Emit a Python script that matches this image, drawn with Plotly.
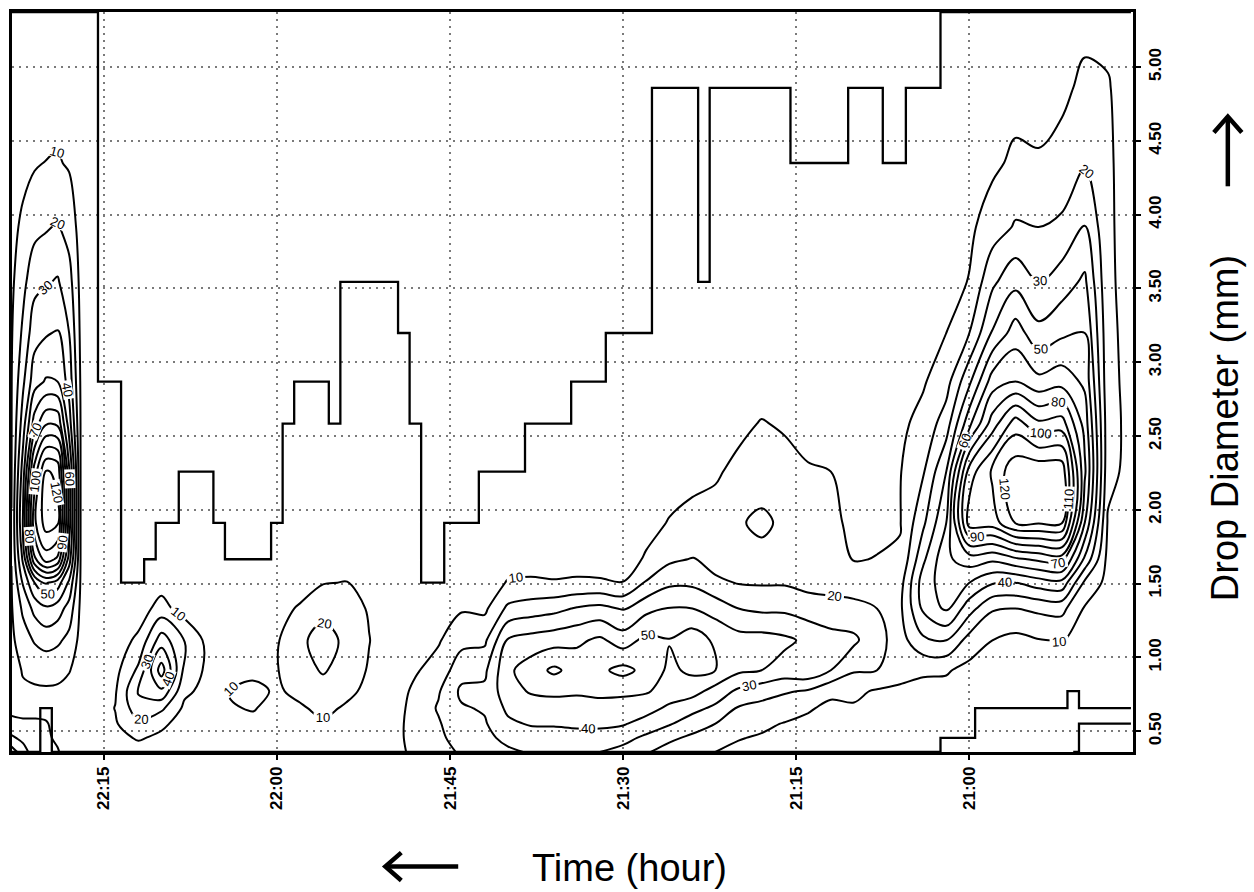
import plotly.graph_objects as go

# ---------------- data ----------------
# JWD drop-size bin centres (mm)
diam_bins = [0.359, 0.455, 0.551, 0.656, 0.771, 0.913, 1.116, 1.331, 1.506, 1.665,
             1.912, 2.259, 2.584, 2.869, 3.198, 3.544, 3.916, 4.350, 4.859, 5.373]

# sampling times of the drop-size spectra
sample_times = ["20:46", "20:48", "20:50", "20:52", "20:54", "20:56", "20:58", "21:00",
                "21:02", "21:04", "21:06", "21:08", "21:10", "21:12", "21:14", "21:16",
                "21:18", "21:20", "21:22", "21:24", "21:26", "21:28", "21:30", "21:32",
                "21:34", "21:36", "21:38", "21:40", "21:42", "21:44", "21:46", "21:48",
                "21:50", "21:52", "21:54", "21:56", "21:58", "22:00", "22:02", "22:04",
                "22:06", "22:08", "22:10", "22:12", "22:14", "22:16", "22:17", "22:18",
                "22:19", "22:20", "22:21", "22:22", "22:23"]

# drop concentration per bin (one list per sampling time, bins from small to large)
dsd_counts = [
    [0, 0, 0, 2, 3, 4, 5, 5, 6, 6, 7, 7, 7, 7, 6, 6, 5, 4, 3, 2],                 # 20:46
    [2, 2, 0, 2, 3, 4, 5, 6, 7, 7, 9, 13, 14, 13, 13, 12, 12, 12, 11, 6],         # 20:48
    [2, 2, 0, 2, 3, 4, 5, 9, 18, 38, 60, 72, 66, 58, 50, 42, 31, 19, 12, 7],      # 20:50
    [0, 0, 0, 2, 4, 6, 10.5, 23, 47, 75, 121, 127, 95, 66, 48, 35, 22, 13, 8, 5],  # 20:52
    [0, 0, 0, 2, 4, 6, 9.5, 22, 45, 72, 121, 128, 92, 63, 43, 30, 20, 11, 6, 3],   # 20:54
    [0, 0, 0, 2, 3, 5, 7, 20, 40, 68, 120.5, 127, 105, 70, 55, 37, 21, 12, 6, 3],  # 20:56
    [0, 0, 0, 2, 4, 6, 10, 21, 41, 62, 105, 112, 85, 65, 41, 28, 15, 8, 5, 2],     # 20:58
    [0, 1, 2, 3, 5, 7, 16, 34, 50, 65, 105, 95, 57, 38, 20, 10.5, 8, 5, 3, 1],     # 21:00
    [0, 1, 2, 4, 7, 11, 30, 52, 55, 58, 50, 40, 25, 16, 10, 6, 4, 3, 2, 1],        # 21:02
    [0, 1, 2, 4, 7, 11.5, 28, 42, 45, 38, 28, 19, 13, 9, 6, 4, 3, 2, 1, 1],        # 21:04
    [1, 2, 4, 6, 9, 12, 16, 18, 16, 11, 9.5, 9.5, 8, 6, 5, 4, 3, 2, 1, 0],         # 21:06
    [2, 4, 6, 8, 9, 20, 23, 20, 14, 10.3, 8, 7, 6, 5, 4, 3, 2, 1, 1, 0],           # 21:08
    [3, 5, 7, 9, 12, 21, 32, 23, 15, 9.5, 7, 6, 5, 4, 3, 2, 2, 1, 1, 0],           # 21:10
    [4, 5, 6, 8, 12, 30, 34, 23, 17, 15, 13, 10, 7, 5, 4, 3, 2, 1, 1, 0],          # 21:12
    [5, 6, 8, 11, 19, 38, 38, 25, 17, 15, 14, 11, 6, 4, 3, 2, 2, 1, 1, 0],         # 21:14
    [6, 7, 9.5, 15, 21, 36, 42, 28, 19, 17, 18, 13, 9, 5, 3, 2, 2, 1, 1, 0],       # 21:16
    [7, 9, 12, 17, 24, 40, 44, 28, 19, 17, 22, 15, 10.5, 6, 4, 3, 2, 1, 1, 0],     # 21:18
    [8, 10.5, 14, 19, 28, 42, 44, 30, 19.5, 17, 19, 12, 8, 4, 3, 2, 2, 1, 1, 0],   # 21:20
    [10, 14, 20, 28, 36, 50, 48, 36, 22, 16, 13, 9, 7, 5, 4, 3, 2, 1, 1, 0],       # 21:22
    [13, 18, 25, 33, 44, 52, 56, 40, 28, 20.5, 14, 6, 4, 3, 2, 2, 1, 1, 0, 0],     # 21:24
    [16, 22, 31, 38, 46, 48, 50.5, 40.5, 28, 18, 10.5, 6, 4, 3, 2, 2, 1, 1, 1, 0], # 21:26
    [21, 28, 36, 44, 51, 57, 53, 37, 21, 11, 7, 5, 4, 3, 2, 2, 1, 1, 1, 0],        # 21:28
    [27, 33, 41, 46, 52, 63, 45, 29, 10.2, 6, 4, 3, 2, 2, 1, 1, 0, 0, 0, 0],       # 21:30
    [30, 36, 42, 47, 52, 58, 52, 33, 11, 6, 4, 3, 2, 2, 1, 0, 0, 0, 0, 0],         # 21:32
    [31, 36, 42, 47, 51, 56, 48, 31, 11, 7, 5, 3, 2, 1, 0, 0, 0, 0, 0, 0],         # 21:34
    [31, 36, 41, 46, 52, 62, 46, 27, 10.5, 7, 5, 3, 2, 1, 0, 0, 0, 0, 0, 0],       # 21:36
    [31, 35, 41, 45, 51, 55, 44, 25, 11, 7, 5, 3, 2, 1, 0, 0, 0, 0, 0, 0],         # 21:38
    [28, 33, 38, 42, 46, 48, 41, 22, 10.5, 7, 5, 3, 2, 1, 0, 0, 0, 0, 0, 0],       # 21:40
    [24, 27, 29, 31, 32, 28, 18, 8, 6, 5, 4, 3, 2, 1, 0, 0, 0, 0, 0, 0],           # 21:42
    [21, 24, 27, 29, 32, 26, 17, 9, 6, 5, 4, 3, 2, 1, 0, 0, 0, 0, 0, 0],           # 21:44
    [17, 18, 19, 21, 19, 14, 9, 6, 4, 3, 2, 1, 1, 0, 0, 0, 0, 0, 0, 0],            # 21:46
    [12, 13, 13, 13, 12, 9, 6, 4, 3, 2, 1, 1, 0, 0, 0, 0, 0, 0, 0, 0],             # 21:48
    [7, 7, 7, 6, 5, 4, 3, 3, 2, 2, 2, 1, 1, 1, 1, 1, 0, 0, 0, 0],                  # 21:50
    [4, 5, 6, 7, 8, 9, 10.3, 9, 7, 5, 4, 3, 2, 2, 1, 1, 0, 0, 0, 0],               # 21:52
    [5, 6, 7, 9, 12, 16, 18, 15, 10.3, 7, 5, 4, 3, 2, 1, 1, 0, 0, 0, 0],           # 21:54
    [6, 8, 9, 12, 16, 21, 24, 17, 9.5, 6, 4, 3, 2, 2, 1, 1, 0, 0, 0, 0],           # 21:56
    [5, 6, 7, 9, 12, 16, 18, 11, 6, 4, 3, 2, 2, 1, 1, 0, 0, 0, 0, 0],              # 21:58
    [4, 5, 6, 7, 9, 9.5, 9, 7, 5, 3, 2, 2, 1, 1, 0, 0, 0, 0, 0, 0],                # 22:00
    [5, 7, 8, 10.5, 12, 8, 5, 3, 2, 2, 1, 1, 0, 0, 0, 0, 0, 0, 0, 0],              # 22:02
    [5, 6, 7, 9.5, 10.5, 7, 5, 3, 2, 2, 1, 1, 0, 0, 0, 0, 0, 0, 0, 0],             # 22:04
    [4, 5, 6, 7, 7, 8, 7, 5, 3, 2, 1, 1, 0, 0, 0, 0, 0, 0, 0, 0],                  # 22:06
    [3, 5, 6, 8, 12, 17, 20.5, 5, 3, 2, 1, 1, 0, 0, 0, 0, 0, 0, 0, 0],             # 22:08
    [4, 8, 12, 22, 38, 55, 35, 14, 6, 4, 3, 2, 1, 1, 0, 0, 0, 0, 0, 0],            # 22:10
    [6, 11, 18, 26, 31, 22, 12, 5, 3, 2, 1, 1, 0, 0, 0, 0, 0, 0, 0, 0],            # 22:12
    [5, 7, 9, 10.3, 9, 7, 5, 3, 2, 1, 1, 1, 0, 0, 0, 0, 0, 0, 0, 0],               # 22:14
    [6, 6, 5, 4, 4, 4, 5, 6, 7, 7, 7, 7, 6, 6, 5, 5, 4, 3, 2, 1],                  # 22:16
    [5, 5, 5, 5, 5, 6, 7, 8, 9, 9.5, 9.5, 9.5, 9.5, 9, 8, 7, 6, 5, 3, 2],          # 22:17
    [7, 7, 6, 6, 7, 10.5, 17, 26, 38, 55, 65, 62, 45, 36, 30, 24, 16, 9, 5, 2],    # 22:18
    [10.5, 9, 8, 8, 9, 12, 22, 35, 55, 98, 122, 118, 78, 50, 41, 31, 21, 10.8, 6, 3],  # 22:19
    [11, 11, 10.5, 8, 9, 13, 24, 38, 61, 105, 125, 121, 79, 51, 39, 29, 19, 10.2, 6, 3],  # 22:20
    [14, 14, 10.5, 9, 9, 12, 21, 33, 50, 88, 108, 95, 65, 46, 36, 27, 17, 9, 5, 2],   # 22:21
    [25, 17, 10.5, 9, 9, 10.5, 15, 22, 31, 42, 51, 45, 35, 28, 22, 17, 12, 7, 4, 2],  # 22:22
    [35, 22, 12, 8, 7, 7, 8, 9, 9.5, 10.2, 10.2, 9.5, 9.5, 9.5, 9, 8, 7, 5, 3, 1],    # 22:23
]

# per-minute edges of the observed spectrum, 20:46 ... 22:23 (index into diam_bins)
first_minute = "20:46"
largest_bin = ([19] * 17 + [18] * 3 + [17] * 2 + [18] * 3 + [17] * 5 + [18] * 7 + [15] +
               [18] * 4 + [14] * 4 + [13] * 3 + [12] * 4 + [11] * 4 + [10] * 3 + [8] * 2 +
               [12] + [14] + [15] * 5 + [12] + [13] * 3 + [12] + [10] + [9] * 4 + [10] +
               [11] * 3 + [10] * 2 + [9] + [8] * 2 + [13] * 2 + [19] * 8)
smallest_bin = ([3] * 5 + [4] + [3] * 8 + [1] * 3 + [0] * 77 + [3] + [0] * 3)
# isolated small-drop patch at the start of the record: minutes and its top bin
patch_times = ["20:46", "20:47", "20:48", "20:49", "20:50", "20:51"]
patch_top_bin = [2, 2, 2, 2, 2, 0]

tick_times = ["22:15", "22:00", "21:45", "21:30", "21:15", "21:00"]
diam_ticks = [0.5, 1.0, 1.5, 2.0, 2.5, 3.0, 3.5, 4.0, 4.5, 5.0]


def to_min(s):
    h, m = s.split(":")
    return int(h) * 60 + int(m)


# ---------------- build traces ----------------
x_main = [to_min(t) for t in sample_times]
z_main = [[dsd_counts[j][i] for j in range(len(sample_times))] for i in range(len(diam_bins))]

x_minutes = [to_min(first_minute) + k for k in range(len(largest_bin))]

edge_line = dict(color="black", width=2.3, shape="hvh")
fig = go.Figure()
fig.add_trace(go.Scatter(x=x_minutes, y=[diam_bins[b] for b in largest_bin], mode="lines",
                         line=edge_line, hoverinfo="skip"))
fig.add_trace(go.Scatter(x=x_minutes, y=[diam_bins[b] for b in smallest_bin], mode="lines",
                         line=edge_line, hoverinfo="skip"))
fig.add_trace(go.Scatter(x=[to_min(t) for t in patch_times], y=[diam_bins[b] for b in patch_top_bin],
                         mode="lines", line=edge_line, hoverinfo="skip"))
fig.add_trace(go.Contour(
    x=x_main, y=diam_bins, z=z_main, autocontour=False,
    contours=dict(start=10, end=120, size=10, coloring="lines", showlabels=True,
                  labelfont=dict(size=13, color="black", family="Liberation Sans")),
    line=dict(width=2.0, smoothing=1.0),
    colorscale=[[0, "black"], [1, "black"]], showscale=False, hoverinfo="skip"))

# ---------------- layout ----------------
L, R, T, B = 10, 1133, 9, 752
W, H = 1254, 892


def px(xp):
    return (xp - L) / (R - L)


def py(yp):
    return (B - yp) / (B - T)


grid = dict(showgrid=True, gridcolor="#7a7a7a", gridwidth=1.6, griddash="2px,5px",
            zeroline=False, showline=True, mirror=True, linecolor="black", linewidth=2.5,
            ticks="outside", ticklen=5, tickwidth=1.5, tickcolor="black")

fig.update_layout(
    width=W, height=H, margin=dict(l=L, r=W - R, t=T, b=H - B),
    paper_bgcolor="white", plot_bgcolor="white", showlegend=False,
    font=dict(family="Liberation Sans", color="black"),
    xaxis=dict(range=[1342.95, 1245.82], tickvals=[to_min(t) for t in tick_times],
               ticktext=tick_times, tickangle=-90,
               tickfont=dict(size=17, weight="bold", family="Liberation Sans"), **grid),
    yaxis=dict(range=[0.359, 5.373], side="right", tickvals=diam_ticks,
               ticktext=["%.2f" % v for v in diam_ticks], tickangle=-90,
               tickfont=dict(size=17, weight="bold", family="Liberation Sans"), **grid),
    annotations=[
        dict(text="Time (hour)", x=px(629), y=py(868), xref="paper", yref="paper",
             showarrow=False, xanchor="center", yanchor="middle",
             font=dict(size=38, family="Liberation Sans")),
        dict(text="Drop Diameter (mm)", x=px(1225), y=py(427), xref="paper", yref="paper",
             showarrow=False, xanchor="center", yanchor="middle", textangle=-90,
             font=dict(size=38, family="Liberation Sans")),
    ],
    shapes=[
        dict(type="line", xref="paper", yref="paper", x0=px(384), y0=py(867), x1=px(457), y1=py(867),
             line=dict(color="black", width=4.5)),
        dict(type="path", xref="paper", yref="paper",
             path="M %f,%f L %f,%f L %f,%f" % (px(400), py(853), px(384), py(867), px(400), py(881)),
             line=dict(color="black", width=4.5)),
        dict(type="line", xref="paper", yref="paper", x0=px(1228), y0=py(184), x1=px(1228), y1=py(114),
             line=dict(color="black", width=4.5)),
        dict(type="path", xref="paper", yref="paper",
             path="M %f,%f L %f,%f L %f,%f" % (px(1214), py(130), px(1228), py(114), px(1242), py(130)),
             line=dict(color="black", width=4.5)),
    ],
)

fig.write_html("out.html")
